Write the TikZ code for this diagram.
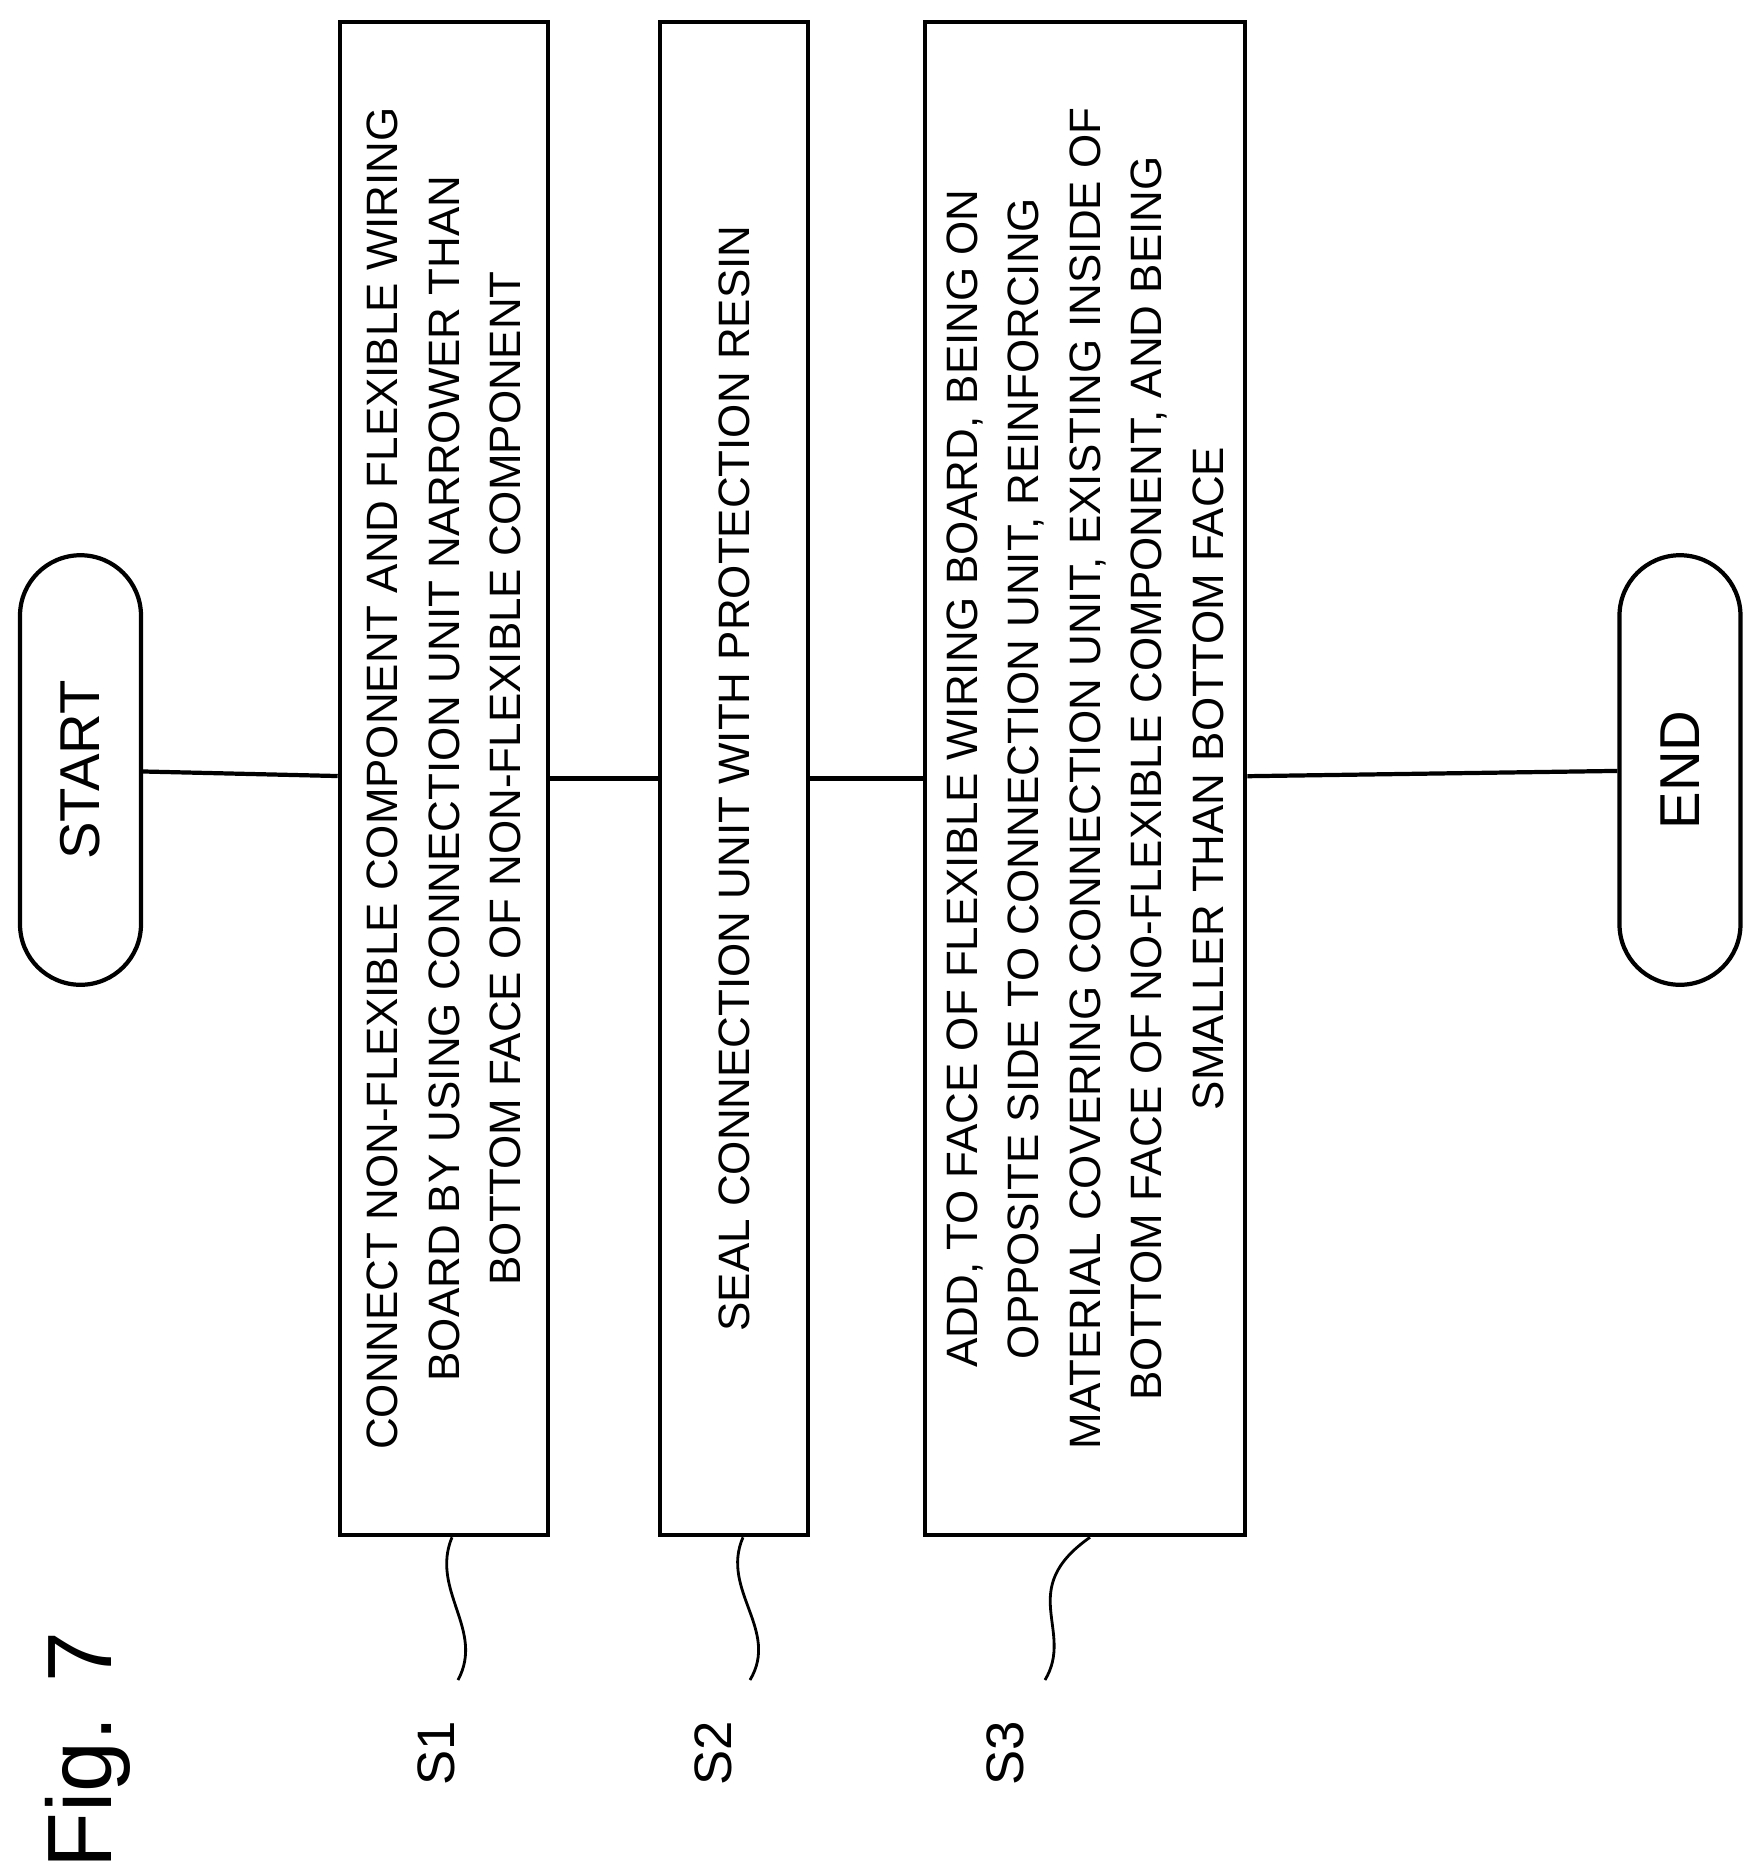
\documentclass[tikz,border=0pt]{standalone}
\usepackage{fontspec}
\setmainfont{Liberation Sans}
\usetikzlibrary{shapes.misc}
\tikzset{
  term/.style={draw,line width=1.2pt,rounded rectangle,rotate=90,
    minimum width=4.53cm,minimum height=1.21cm,font=\fontsize{16}{18}\selectfont},
  stepbox/.style={draw,line width=1.3pt,rectangle,rotate=90,minimum width=15.13cm,
    align=center,font=\fontsize{12.5}{17.5}\selectfont},
  tag/.style={rotate=90,font=\fontsize{15}{17}\selectfont},
  link/.style={line width=1.2pt},
  lead/.style={line width=0.8pt}
}
\begin{document}
\begin{tikzpicture}
  \useasboundingbox (0,0) rectangle (17.61,-18.69);

% terminals
  \node[term] (start) at (0.805,-7.70) {START};
  \node[term] (end) at (16.80,-7.70) {END};

% process steps
  \node[stepbox,minimum height=2.08cm] (s1) at (4.44,-7.785)
    {CONNECT NON-FLEXIBLE COMPONENT AND FLEXIBLE WIRING\\
     BOARD BY USING CONNECTION UNIT NARROWER THAN\\
     BOTTOM FACE OF NON-FLEXIBLE COMPONENT};
  \node[stepbox,minimum height=1.48cm] (s2) at (7.34,-7.785)
    {SEAL CONNECTION UNIT WITH PROTECTION RESIN};
  \node[stepbox,minimum height=3.20cm] (s3) at (10.85,-7.785)
    {ADD, TO FACE OF FLEXIBLE WIRING BOARD, BEING ON\\
     OPPOSITE SIDE TO CONNECTION UNIT, REINFORCING\\
     MATERIAL COVERING CONNECTION UNIT, EXISTING INSIDE OF\\
     BOTTOM FACE OF NO-FLEXIBLE COMPONENT, AND BEING\\
     SMALLER THAN BOTTOM FACE};

% flow line
  \draw[link] (start) -- (s1);
  \draw[link] (s1) -- (s2);
  \draw[link] (s2) -- (s3);
  \draw[link] (s3) -- (end);

% step labels
  \node[tag] (t1) at (4.36,-17.53) {S1};
  \node[tag] (t2) at (7.13,-17.53) {S2};
  \node[tag] (t3) at (10.05,-17.53) {S3};
  \coordinate (e1) at (4.58,-16.80);
  \coordinate (e2) at (7.50,-16.80);
  \coordinate (e3) at (10.45,-16.80);
  \draw[lead] ([xshift=0.08cm]s1.west) .. controls (4.30,-15.90) and (4.85,-16.30) .. (e1);
  \draw[lead] ([xshift=0.09cm]s2.west) .. controls (7.20,-15.90) and (7.80,-16.30) .. (e2);
  \draw[lead] ([xshift=0.05cm]s3.west) .. controls (10.15,-15.90) and (10.75,-16.30) .. (e3);

% figure title
  \node[rotate=90,font=\fontsize{26}{28}\selectfont] (fig) at (0.88,-17.50) {Fig. 7};
\end{tikzpicture}
\end{document}
